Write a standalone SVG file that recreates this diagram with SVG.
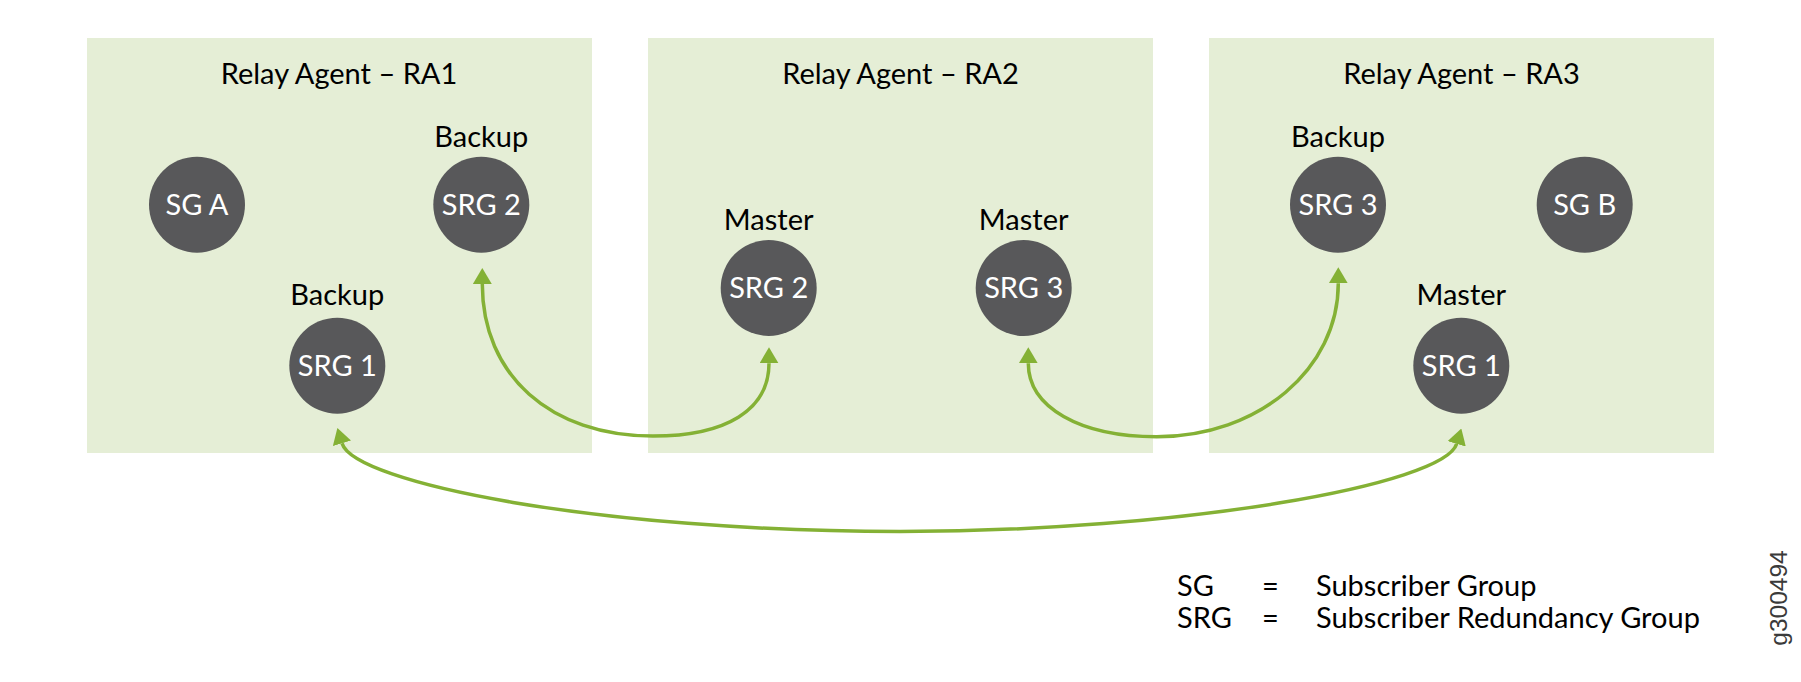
<svg xmlns="http://www.w3.org/2000/svg" width="1801" height="682" viewBox="0 0 1801 682">
<style>
.box{fill:#e5eed6}
.node circle{fill:#58585a}
.title,.lbl{font-family:Lato,"Liberation Sans",sans-serif;font-size:29px;fill:#000;text-anchor:middle}
.in{font-family:Lato,"Liberation Sans",sans-serif;font-size:29px;fill:#fff;text-anchor:middle}
.leg{font-family:Lato,"Liberation Sans",sans-serif;font-size:29px;fill:#000}
.conn path{fill:none;stroke:#84b135;stroke-width:3.5;marker-start:url(#ah);marker-end:url(#ah)}
</style>
<defs>
<marker id="ah" markerUnits="userSpaceOnUse" markerWidth="16" markerHeight="19" refX="0" refY="9.5" orient="auto-start-reverse" viewBox="0 0 16 19">
<path d="M0,0 L16,9.5 L0,19 z" fill="#84b135"/>
</marker>
</defs>
<rect width="1801" height="682" fill="#fff"/>
<g id="ra1">
<rect class="box" x="87" y="38" width="505" height="415"/>
<text class="title" x="339" y="84">Relay Agent – RA1</text>
</g>
<g id="ra2">
<rect class="box" x="648" y="38" width="505" height="415"/>
<text class="title" x="900.5" y="84">Relay Agent – RA2</text>
</g>
<g id="ra3">
<rect class="box" x="1209" y="38" width="505" height="415"/>
<text class="title" x="1461.5" y="84">Relay Agent – RA3</text>
</g>
<g id="ra1-sga" class="node">
<circle cx="197" cy="204.7" r="48"/>
<text class="in" x="197" y="215">SG A</text>
</g>
<g id="ra1-srg2" class="node">
<text class="lbl" x="481.3" y="147">Backup</text>
<circle cx="481.3" cy="204.7" r="48"/>
<text class="in" x="481.3" y="215">SRG 2</text>
</g>
<g id="ra1-srg1" class="node">
<text class="lbl" x="337.3" y="304.5">Backup</text>
<circle cx="337.3" cy="365.7" r="48"/>
<text class="in" x="337.3" y="376">SRG 1</text>
</g>
<g id="ra2-srg2" class="node">
<text class="lbl" x="768.7" y="229.5">Master</text>
<circle cx="768.7" cy="288" r="48"/>
<text class="in" x="768.7" y="298.3">SRG 2</text>
</g>
<g id="ra2-srg3" class="node">
<text class="lbl" x="1023.7" y="229.5">Master</text>
<circle cx="1023.7" cy="288" r="48"/>
<text class="in" x="1023.7" y="298.3">SRG 3</text>
</g>
<g id="ra3-srg3" class="node">
<text class="lbl" x="1338" y="147">Backup</text>
<circle cx="1338" cy="204.7" r="48"/>
<text class="in" x="1338" y="215">SRG 3</text>
</g>
<g id="ra3-sgb" class="node">
<circle cx="1584.7" cy="204.7" r="48"/>
<text class="in" x="1584.7" y="215">SG B</text>
</g>
<g id="ra3-srg1" class="node">
<text class="lbl" x="1461.3" y="304.5">Master</text>
<circle cx="1461.3" cy="365.7" r="48"/>
<text class="in" x="1461.3" y="376">SRG 1</text>
</g>
<g id="connectors" class="conn">
<path d="M482.3,284 C482.3,375.2 550.4,436 653,436 C726,436 769,410 769,363.3"/>
<path d="M1028.3,363.3 C1028.3,407.3 1079.7,436.7 1156.7,436.7 C1258.4,436.7 1338.3,369.2 1338.3,283.3"/>
<path d="M342,443.3 C354,483.3 600,531.5 900,531.5 C1180,531.5 1444.2,485 1456.7,443.8"/>
</g>
<g id="legend">
<text class="leg" x="1177" y="595.5">SG</text>
<text class="leg" x="1262" y="595.5">=</text>
<text class="leg" x="1316" y="595.5">Subscriber Group</text>
<text class="leg" x="1177" y="628">SRG</text>
<text class="leg" x="1262" y="628">=</text>
<text class="leg" x="1316" y="628">Subscriber Redundancy Group</text>
</g>
<text x="1787" y="598" transform="rotate(-90 1787 598)" font-family="'Liberation Sans',Arial,sans-serif" font-size="24.5" fill="#3a3a3a" text-anchor="middle">g300494</text>
</svg>
